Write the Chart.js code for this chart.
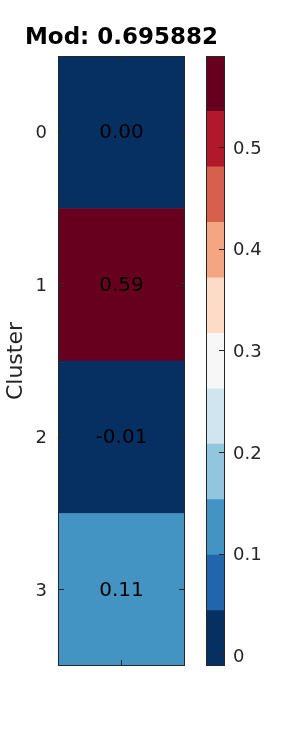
<!DOCTYPE html>
<html>
<head>
<meta charset="utf-8">
<script src="https://cdn.jsdelivr.net/npm/chart.js@4/dist/chart.umd.min.js"></script>
<style>
  html, body { margin: 0; padding: 0; background: #fff; }
  #wrap { position: relative; width: 300px; height: 750px; }
  canvas { position: absolute; left: 0; top: 0; }
</style>
</head>
<body>
<div id="wrap">
  <canvas id="heat" width="300" height="750"></canvas>
  <canvas id="cbar" width="300" height="750"></canvas>
</div>
<script>
// données
var clusters = ['0', '1', '2', '3'];
var modValues = [0.00, 0.59, -0.01, 0.11];
var cbTicks = [0, 0.1, 0.2, 0.3, 0.4, 0.5];
var cbMin = -0.01;
var cbMax = 0.59;
var rdbu = ['#053061', '#2166ac', '#4393c3', '#92c5de', '#d1e5f0', '#f7f7f7',
            '#fddbc7', '#f4a582', '#d6604d', '#b2182b', '#67001f'];
var titre = 'Mod: 0.695882';

var ink = '#262626';
var fam = "'DejaVu Sans', sans-serif";

function colorFor(v) {
    var k = Math.floor((v - cbMin) / (cbMax - cbMin) * rdbu.length);
    return rdbu[Math.max(0, Math.min(rdbu.length - 1, k))];
}
function edge(i) {
    return cbMin + i * (cbMax - cbMin) / rdbu.length;
}

// cadre autour de la zone du graphique
var frame = {
    id: 'frame',
    afterDraw: function(chart) {
        var a = chart.chartArea, c = chart.ctx;
        c.save();
        c.strokeStyle = ink;
        c.lineWidth = 1;
        c.strokeRect(Math.round(a.left) + 0.5, Math.round(a.top) + 0.5,
                     Math.round(a.right - a.left) - 1, Math.round(a.bottom - a.top) - 1);
        c.restore();
    }
};

// titre centré sur la carte + valeurs dans les cases
var cellText = {
    id: 'cellText',
    afterDatasetsDraw: function(chart) {
        var c = chart.ctx, a = chart.chartArea;
        c.save();
        c.fillStyle = '#000';
        c.textAlign = 'center';
        c.textBaseline = 'middle';
        c.font = '20px ' + fam;
        chart.getDatasetMeta(0).data.forEach(function(bar, i) {
            var p = bar.getCenterPoint();
            c.fillText(modValues[i].toFixed(2), p.x, p.y + 1);
        });
        c.font = 'bold 23px ' + fam;
        c.textBaseline = 'alphabetic';
        c.fillText(titre, (a.left + a.right) / 2, 44);
        c.restore();
    }
};

// petites graduations vers l'intérieur, dessinées au-dessus des cases
var tickGrid = { drawOnChartArea: false, offset: false, tickLength: -6, color: ink, z: 1 };

var heat = new Chart(document.getElementById('heat').getContext('2d'), {
    type: 'bar',
    data: {
        labels: clusters,
        datasets: [{
            data: clusters.map(function() { return [0, 1]; }),
            backgroundColor: modValues.map(colorFor),
            borderWidth: 0,
            barPercentage: 1,
            categoryPercentage: 1
        }]
    },
    options: {
        indexAxis: 'y',
        responsive: false,
        animation: false,
        layout: { padding: { left: 0, right: 115, top: 56, bottom: 84 } },
        plugins: {
            legend: { display: false },
            tooltip: { enabled: false }
        },
        scales: {
            y: {
                position: 'left',
                grid: tickGrid,
                border: { display: false },
                ticks: { color: ink, font: { family: fam, size: 18 }, padding: 17, labelOffset: 1.5 },
                title: { display: true, text: 'Cluster', color: ink, font: { family: fam, size: 22 }, padding: { top: 3, bottom: 0 } },
                afterFit: function(s) { s.width = 58; }
            },
            y2: {
                type: 'category',
                position: 'right',
                grid: tickGrid,
                border: { display: false },
                ticks: { display: false },
                afterFit: function(s) { s.width = 0; }
            },
            x: {
                type: 'linear',
                min: 0, max: 1,
                position: 'bottom',
                grid: tickGrid,
                border: { display: false },
                ticks: { display: false },
                afterBuildTicks: function(s) { s.ticks = [{ value: 0.5 }]; },
                afterFit: function(s) { s.height = 0; }
            },
            x2: {
                type: 'linear',
                min: 0, max: 1,
                position: 'top',
                grid: tickGrid,
                border: { display: false },
                ticks: { display: false },
                afterBuildTicks: function(s) { s.ticks = [{ value: 0.5 }]; },
                afterFit: function(s) { s.height = 0; }
            }
        }
    },
    plugins: [frame, cellText]
});

var cbar = new Chart(document.getElementById('cbar').getContext('2d'), {
    type: 'bar',
    data: {
        labels: [''],
        datasets: rdbu.map(function(col, i) {
            return {
                data: [[edge(i), edge(i + 1)]],
                backgroundColor: col,
                borderWidth: 0,
                grouped: false,
                barPercentage: 1,
                categoryPercentage: 1
            };
        })
    },
    options: {
        responsive: false,
        animation: false,
        layout: { padding: { left: 206, right: 0, top: 56, bottom: 84 } },
        plugins: { legend: { display: false }, tooltip: { enabled: false } },
        scales: {
            x: { display: false },
            y: {
                min: cbMin, max: cbMax,
                position: 'right',
                grid: { drawOnChartArea: false, tickLength: -6, color: ink, z: 1 },
                border: { display: false },
                ticks: {
                    color: ink, font: { family: fam, size: 18 }, padding: 14, labelOffset: 1.5,
                    callback: function(v) { return String(+v.toFixed(2)); }
                },
                afterBuildTicks: function(s) {
                    s.ticks = cbTicks.map(function(v) { return { value: v }; });
                },
                afterFit: function(s) { s.width = 75; }
            }
        }
    },
    plugins: [frame]
});
</script>
</body>
</html>
